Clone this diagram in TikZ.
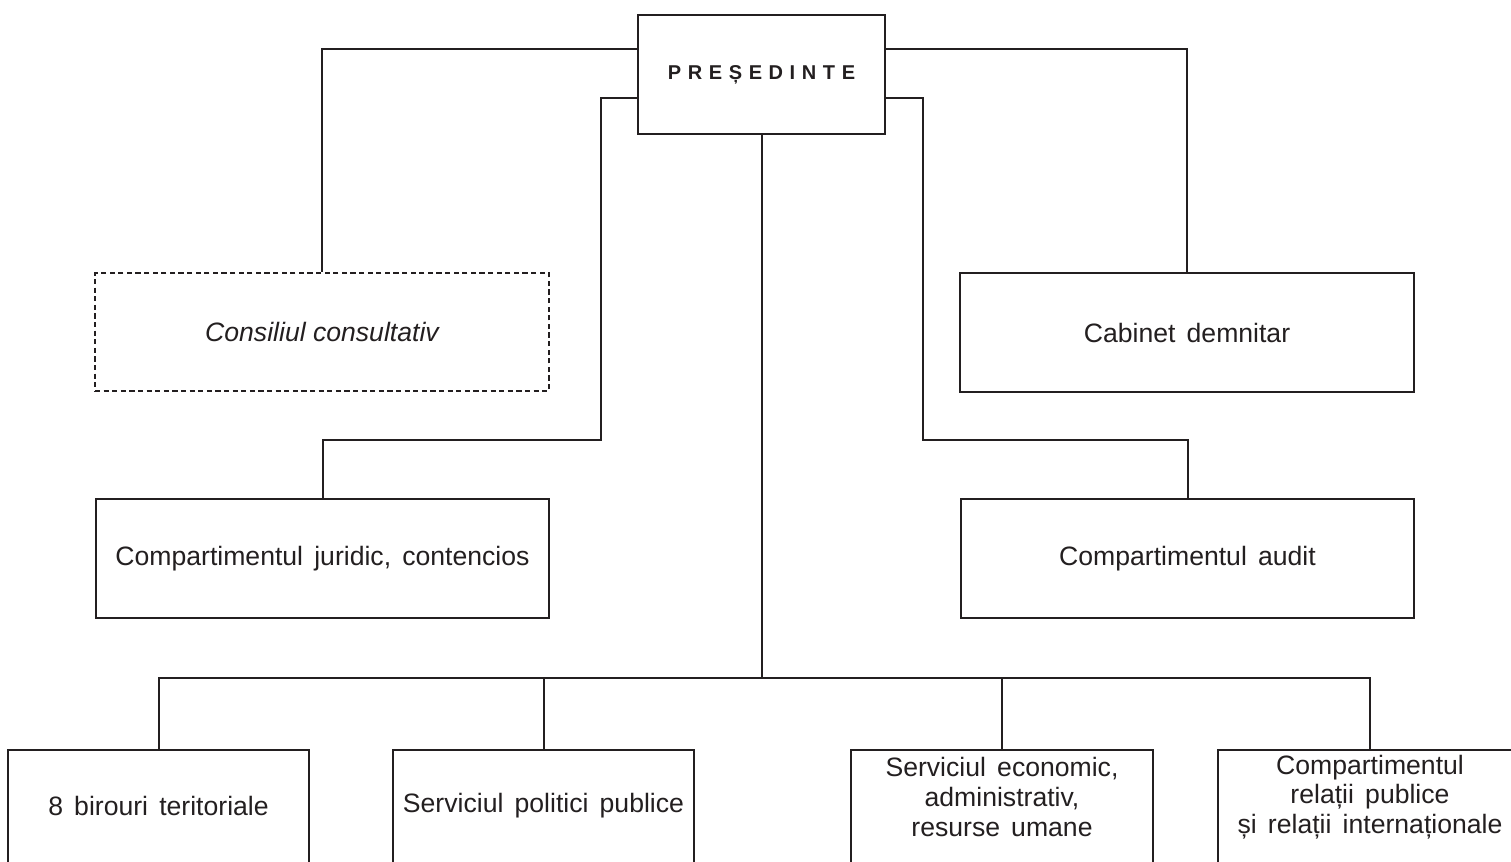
\documentclass[tikz,border=0pt]{standalone}
\usepackage{fontspec}
\setmainfont{Liberation Sans}
\definecolor{ink}{HTML}{231F20}
\newcommand{\ws}{\hspace{0.42em}}
\newcommand{\lk}{\kern3.3pt}
\begin{document}
\begin{tikzpicture}[x=0.5pt,y=-0.5pt,
  every node/.style={text=ink},
  box/.style={draw=ink, line width=1pt, inner sep=0pt, align=center,
    font=\fontsize{13.3}{14.8}\selectfont},
  dbox/.style={box, dash pattern=on 2.6pt off 1.7pt},
  lbl/.style={inner sep=0pt, align=center, font=\fontsize{13.3}{14.8}\selectfont},
  conn/.style={draw=ink, line width=1pt}]
\useasboundingbox (0,0) rectangle (1511,862);
\clip (0,0) rectangle (1511,862);

\node[box, minimum width=123.5pt, minimum height=59.5pt] (pres) at (761.5,74.5)
  {\fontsize{10}{12}\selectfont\bfseries P\lk R\lk E\lk Ș\lk E\lk D\lk I\lk N\lk T\lk E};

\node[dbox, minimum width=227pt, minimum height=59pt] (cons) at (322,332)
  {\itshape Consiliul consultativ};
\node[box, minimum width=227pt, minimum height=59.5pt] (cab) at (1187,332.5)
  {Cabinet\ws demnitar};
\node[box, minimum width=226.5pt, minimum height=59.5pt] (jur) at (322.5,558.5)
  {Compartimentul\ws juridic,\ws contencios};
\node[box, minimum width=226.5pt, minimum height=59.5pt] (aud) at (1187.5,558.5)
  {Compartimentul\ws audit};

\node[box, minimum width=150.5pt, minimum height=100pt, anchor=north] (b1) at (158.5,749) {};
\node[box, minimum width=150.5pt, minimum height=100pt, anchor=north] (b2) at (543.5,749) {};
\node[box, minimum width=151pt, minimum height=100pt, anchor=north] (b3) at (1002,749) {};
\node[box, minimum width=152pt, minimum height=100pt, anchor=north] (b4) at (1370,749) {};

\node[lbl] (t1) at (158.5,806) {8\ws birouri\ws teritoriale};
\node[lbl] (t2) at (543.5,806) {Serviciul\ws politici\ws publice};
\node[lbl] (t3) at (1002,797) {Serviciul\ws economic,\\administrativ,\\resurse\ws umane};
\node[lbl] (t4) at (1370,797) {Compartimentul\\relații\ws publice\\și\ws relații\ws internaționale};

\coordinate (jl) at (601,440);
\coordinate (jr) at (923,440);
\coordinate (hub) at (761.5,678);

\draw[conn] (pres.west |- 0,49) -| (cons.north);
\draw[conn] (pres.east |- 0,49) -| (cab.north);
\draw[conn] (pres.west |- 0,98) -| (jl) -| (jur.north);
\draw[conn] (pres.east |- 0,98) -| (jr) -| (aud.north);
\draw[conn] (pres.south) -- (hub);
\draw[conn] (b1.north) |- (hub) -| (b4.north);
\draw[conn] (b2.north) -- (b2.north |- hub);
\draw[conn] (b3.north) -- (b3.north |- hub);
\end{tikzpicture}
\end{document}
